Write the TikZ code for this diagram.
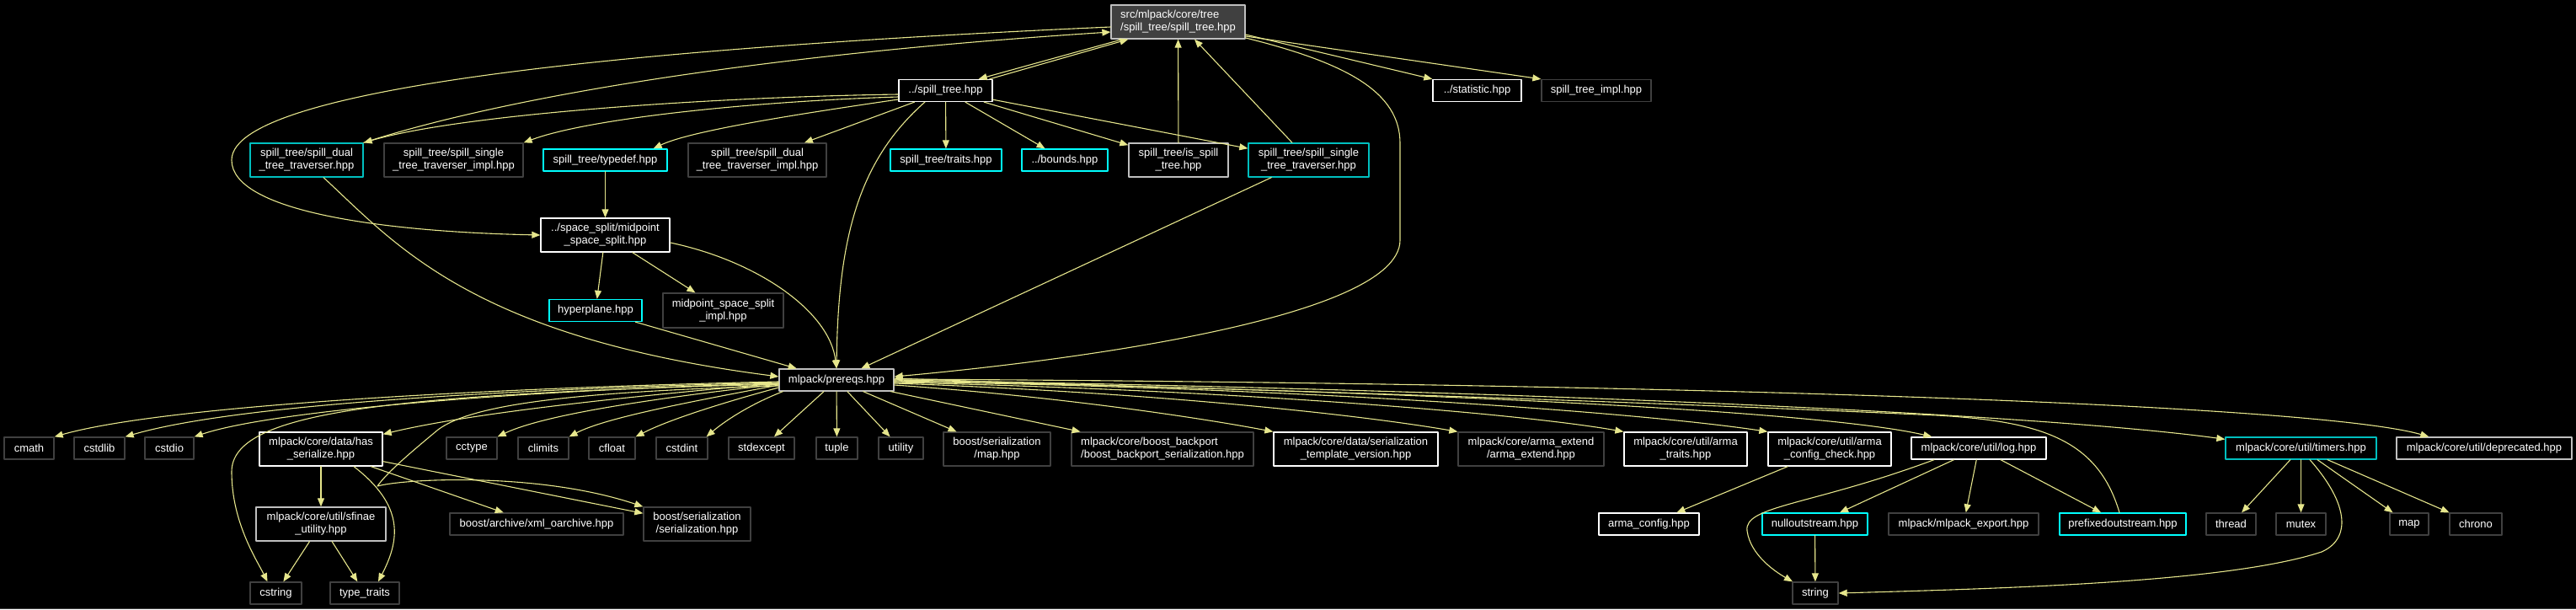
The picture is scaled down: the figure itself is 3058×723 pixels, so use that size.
\documentclass[tikz,border=0pt]{standalone}
\usepackage{fontspec}
\setmainfont{Liberation Sans}
\usetikzlibrary{arrows.meta}
\definecolor{depyel}{RGB}{230,230,140}
\definecolor{topgray}{RGB}{64,64,64}
\definecolor{lightrim}{RGB}{191,191,191}
\definecolor{darkrim}{RGB}{64,64,64}
\definecolor{cyanrim}{RGB}{0,255,255}
\definecolor{tealrim}{RGB}{0,191,191}

\begin{document}
\begin{tikzpicture}[x=1pt,y=-1pt,line cap=round,line join=round,
  font=\fontsize{13}{15}\selectfont,
  hdr/.style={draw,rectangle,fill=black,text=white,inner sep=1pt,line width=1.3pt,align=center,minimum height=26pt},
  hdrdoc/.style={hdr,draw=white},
  hdrgray/.style={hdr,draw=lightrim},
  hdrsys/.style={hdr,draw=darkrim},
  hdrcyan/.style={hdr,draw=cyanrim},
  hdrteal/.style={hdr,draw=tealrim},
  hdrtop/.style={hdr,draw=lightrim,fill=topgray},
  dep/.style={draw=depyel,line width=1.1pt,-{Triangle[length=10pt,width=8pt]}}]
\fill[black] (0,0) rectangle (3058,723);
\useasboundingbox (0,0) rectangle (3058,723);
\draw[darkrim,line width=1pt] (0,722) -- (3058,722);

\node[hdrtop,minimum width=159pt,minimum height=40pt,align=left] (top) at (1398.5,26) {src/mlpack/core/tree\\/spill\_tree/spill\_tree.hpp};
\node[hdrdoc,minimum width=111pt] (st) at (1122.5,107.5) {../spill\_tree.hpp};
\node[hdrdoc,minimum width=105pt] (stat) at (1753.5,107.5) {../statistic.hpp};
\node[hdrsys,minimum width=130pt] (stimpl) at (1895,107.5) {spill\_tree\_impl.hpp};
\node[hdrteal,minimum width=134pt,minimum height=40pt] (dualtrav) at (364,190) {spill\_tree/spill\_dual\\\_tree\_traverser.hpp};
\node[hdrsys,minimum width=165pt,minimum height=40pt] (singleimpl) at (538.5,190) {spill\_tree/spill\_single\\\_tree\_traverser\_impl.hpp};
\node[hdrcyan,minimum width=147pt] (typedef) at (718.5,190) {spill\_tree/typedef.hpp};
\node[hdrsys,minimum width=164pt,minimum height=40pt] (dualimpl) at (899,190) {spill\_tree/spill\_dual\\\_tree\_traverser\_impl.hpp};
\node[hdrcyan,minimum width=132pt] (traits) at (1123,190) {spill\_tree/traits.hpp};
\node[hdrcyan,minimum width=102pt] (bounds) at (1264,190) {../bounds.hpp};
\node[hdrgray,minimum width=118pt,minimum height=40pt] (isspill) at (1399,190) {spill\_tree/is\_spill\\\_tree.hpp};
\node[hdrteal,minimum width=143pt,minimum height=40pt] (singletrav) at (1553.5,190) {spill\_tree/spill\_single\\\_tree\_traverser.hpp};
\node[hdrdoc,minimum width=153pt,minimum height=40pt] (midpoint) at (718.5,279) {../space\_split/midpoint\\\_space\_split.hpp};
\node[hdrcyan,minimum width=110pt] (hyperplane) at (707,368.5) {hyperplane.hpp};
\node[hdrsys,minimum width=143pt,minimum height=41pt] (midimpl) at (858.5,368.5) {midpoint\_space\_split\\\_impl.hpp};
\node[hdrgray,minimum width=136pt] (prereqs) at (993,451) {mlpack/prereqs.hpp};

\node[hdrsys,minimum width=59pt] (cmath) at (34.5,532) {cmath};
\node[hdrsys,minimum width=60pt] (cstdlib) at (118,532) {cstdlib};
\node[hdrsys,minimum width=58pt] (cstdio) at (201,532) {cstdio};
\node[hdrdoc,minimum width=146pt,minimum height=40pt] (hasser) at (381,533) {mlpack/core/data/has\\\_serialize.hpp};
\node[hdrsys,minimum width=60pt] (cctype) at (560,532) {cctype};
\node[hdrsys,minimum width=60pt] (climits) at (645,532) {climits};
\node[hdrsys,minimum width=55pt] (cfloat) at (726.5,532) {cfloat};
\node[hdrsys,minimum width=61pt] (cstdint) at (809.5,532) {cstdint};
\node[hdrsys,minimum width=78pt] (stdexcept) at (904,532) {stdexcept};
\node[hdrsys,minimum width=49pt] (tuple) at (993.5,532) {tuple};
\node[hdrsys,minimum width=53pt] (utility) at (1069.5,532) {utility};
\node[hdrsys,minimum width=127pt,minimum height=40pt] (bsmap) at (1183.5,533) {boost/serialization\\/map.hpp};
\node[hdrsys,minimum width=216pt,minimum height=40pt,align=left] (backport) at (1380,533) {mlpack/core/boost\_backport\\/boost\_backport\_serialization.hpp};
\node[hdrdoc,minimum width=195pt,minimum height=40pt] (stv) at (1609.5,533) {mlpack/core/data/serialization\\\_template\_version.hpp};
\node[hdrsys,minimum width=173pt,minimum height=40pt] (armaext) at (1817.5,533) {mlpack/core/arma\_extend\\/arma\_extend.hpp};
\node[hdrdoc,minimum width=146pt,minimum height=40pt] (armatraits) at (2001,533) {mlpack/core/util/arma\\\_traits.hpp};
\node[hdrdoc,minimum width=146pt,minimum height=40pt] (armacc) at (2172,533) {mlpack/core/util/arma\\\_config\_check.hpp};
\node[hdrdoc,minimum width=160pt] (log) at (2349,532) {mlpack/core/util/log.hpp};
\node[hdrteal,minimum width=179pt] (timers) at (2731.5,532) {mlpack/core/util/timers.hpp};
\node[hdrgray,minimum width=208pt] (deprecated) at (2949,532) {mlpack/core/util/deprecated.hpp};

\node[hdrgray,minimum width=154pt,minimum height=40pt] (sfinae) at (381,622) {mlpack/core/util/sfinae\\\_utility.hpp};
\node[hdrsys,minimum width=206pt] (xmlo) at (637,622) {boost/archive/xml\_oarchive.hpp};
\node[hdrsys,minimum width=127pt,minimum height=40pt] (bsser) at (827.5,622) {boost/serialization\\/serialization.hpp};
\node[hdrdoc,minimum width=119pt] (armaconfig) at (1957.5,622) {arma\_config.hpp};
\node[hdrcyan,minimum width=125pt] (nullout) at (2154.5,622) {nulloutstream.hpp};
\node[hdrsys,minimum width=178pt] (mlexport) at (2331,622) {mlpack/mlpack\_export.hpp};
\node[hdrcyan,minimum width=150pt] (prefixed) at (2520,622) {prefixedoutstream.hpp};
\node[hdrsys,minimum width=59pt] (thread) at (2648.5,622) {thread};
\node[hdrsys,minimum width=59pt] (mutex) at (2731.5,622) {mutex};
\node[hdrsys,minimum width=46pt] (mapx) at (2860,622) {map};
\node[hdrsys,minimum width=62pt] (chrono) at (2939,622) {chrono};

\node[hdrsys,minimum width=61pt] (cstring) at (327.5,704) {cstring};
\node[hdrsys,minimum width=82pt] (typetraits) at (433,704) {type\_traits};
\node[hdrsys,minimum width=54pt] (string) at (2155,704) {string};

\draw[dep] ([xshift=14pt]top.south west) -- ([xshift=-17pt]st.north east);
\draw[dep] ([xshift=-4pt]st.north east) -- ([xshift=21pt]top.south west);
\draw[dep] ([yshift=-15pt]top.east) -- (stat.north west);
\draw[dep] ([yshift=-17pt]top.east) -- (stimpl.north west);
\draw[dep] ([yshift=-19pt]top.east) .. controls (1600,75) and (1662,110) .. (1662,170) -- (1662,285) .. controls (1662,380) and (1250,430) .. ([yshift=4pt]prereqs.east);
\draw[dep] ([yshift=-6pt]top.west) .. controls (800,55) and (275,100) .. (275,190) .. controls (275,250) and (450,275) .. (midpoint.west);
\draw[dep] (dualtrav.north east) .. controls (600,115) and (900,65) .. ([yshift=-12pt]top.west);

\draw[dep] ([yshift=-4.5pt]st.west) .. controls (850,115) and (550,135) .. (dualtrav.north east);
\draw[dep] ([yshift=-7.5pt]st.west) .. controls (900,120) and (700,140) .. (singleimpl.north east);
\draw[dep] ([yshift=-10.5pt]st.west) .. controls (950,135) and (820,155) .. ([xshift=-17pt]typedef.north east);
\draw[dep] (st) -- (dualimpl);
\draw[dep] (st) -- (traits);
\draw[dep] (st) -- (bounds);
\draw[dep] (st) -- (isspill);
\draw[dep] (st) -- (singletrav);
\draw[dep] (st.-151) .. controls (1020,190) and (995,280) .. (prereqs.north);
\draw[dep] (isspill) -- (top);
\draw[dep] (singletrav) -- (top);
\draw[dep] (singletrav) -- (prereqs);
\draw[dep] ([xshift=20pt]dualtrav.south) .. controls (470,290) and (560,400) .. ([yshift=4pt]prereqs.west);

\draw[dep] (typedef) -- (midpoint);
\draw[dep] (midpoint) -- (hyperplane);
\draw[dep] (midpoint) -- (midimpl);
\draw[dep] ([yshift=-9pt]midpoint.east) .. controls (900,310) and (985,370) .. (prereqs.north);
\draw[dep] (hyperplane) -- (prereqs);

\draw[dep] ([yshift=-2pt]prereqs.west) .. controls (600,460) and (200,480) .. (cmath.north east);
\draw[dep] ([yshift=-3pt]prereqs.west) .. controls (600,462) and (280,480) .. (cstdlib.north east);
\draw[dep] ([yshift=-4pt]prereqs.west) .. controls (650,462) and (330,485) .. (cstdio.north east);
\draw[dep] ([yshift=-5pt]prereqs.west) .. controls (450,468) and (275,490) .. (275,560) .. controls (275,620) and (305,665) .. ([xshift=-10pt]cstring.north);
\draw[dep] ([yshift=-4pt]prereqs.west) .. controls (750,470) and (560,490) .. ([yshift=-3pt]hasser.north east);
\draw[dep] ([yshift=-7pt]prereqs.west) .. controls (680,465) and (560,480) .. (520,510) .. controls (490,535) and (460,560) .. (448,577) .. controls (480,568) and (640,560) .. (bsser.north west);
\draw[dep] ([yshift=-5pt]prereqs.west) .. controls (800,470) and (650,490) .. (cctype.north east);
\draw[dep] ([yshift=-6pt]prereqs.west) .. controls (830,475) and (720,495) .. (climits.north east);
\draw[dep] ([yshift=-9pt]prereqs.west) .. controls (850,480) and (790,500) .. (cfloat.north east);
\draw[dep] ([xshift=5pt]prereqs.south west) .. controls (890,480) and (860,500) .. ([xshift=-2pt]cstdint.north east);
\draw[dep] (prereqs) -- (stdexcept);
\draw[dep] (prereqs) -- (tuple);
\draw[dep] (prereqs) -- (utility);
\draw[dep] (prereqs) -- (bsmap);
\draw[dep] (prereqs) -- (backport);
\draw[dep] ([yshift=-6pt]prereqs.east) .. controls (1250,470) and (1420,495) .. (stv.north west);
\draw[dep] ([yshift=-4pt]prereqs.east) .. controls (1350,465) and (1600,490) .. (armaext.north west);
\draw[dep] ([yshift=-3pt]prereqs.east) .. controls (1450,462) and (1800,490) .. (armatraits.north west);
\draw[dep] ([yshift=-2pt]prereqs.east) .. controls (1550,460) and (1950,490) .. (armacc.north west);
\draw[dep] ([yshift=-1pt]prereqs.east) .. controls (1600,462) and (2150,485) .. ([xshift=25pt]log.north west);
\draw[dep] (prereqs.east) .. controls (1900,465) and (2450,495) .. ([yshift=-3pt]timers.north west);
\draw[dep] ([yshift=1pt]prereqs.east) .. controls (2000,455) and (2750,480) .. ([xshift=39pt]deprecated.north west);
\draw[dep] ([xshift=-4pt]prefixed.north) .. controls (2490,520) and (2420,500) .. (2300,493) .. controls (1800,470) and (1300,458) .. ([yshift=2pt]prereqs.east);

\draw[dep] (hasser) -- (sfinae);
\draw[dep] ([xshift=39pt]hasser.south) .. controls (480,600) and (475,640) .. ([xshift=16pt]typetraits.north);
\draw[dep] (hasser) -- (xmlo);
\draw[dep] (hasser) -- (bsser);
\draw[dep] (sfinae) -- (cstring);
\draw[dep] (sfinae) -- (typetraits);

\draw[dep] (armacc) -- (armaconfig);
\draw[dep] (log) -- (nullout);
\draw[dep] (log) -- (mlexport);
\draw[dep] (log) -- (prefixed);
\draw[dep] ([xshift=-53pt]log.south) .. controls (2150,600) and (2070,600) .. (2074,630) .. controls (2078,660) and (2110,680) .. ([xshift=-27pt]string.north);
\draw[dep] (nullout) -- (string);
\draw[dep] (timers) -- (thread);
\draw[dep] (timers) -- (mutex);
\draw[dep] (timers) -- (mapx);
\draw[dep] (timers) -- (chrono);
\draw[dep] ([xshift=10.5pt]timers.south) .. controls (2790,600) and (2790,640) .. (2756,655) .. controls (2650,690) and (2400,698) .. (string.east);
\end{tikzpicture}
\end{document}
